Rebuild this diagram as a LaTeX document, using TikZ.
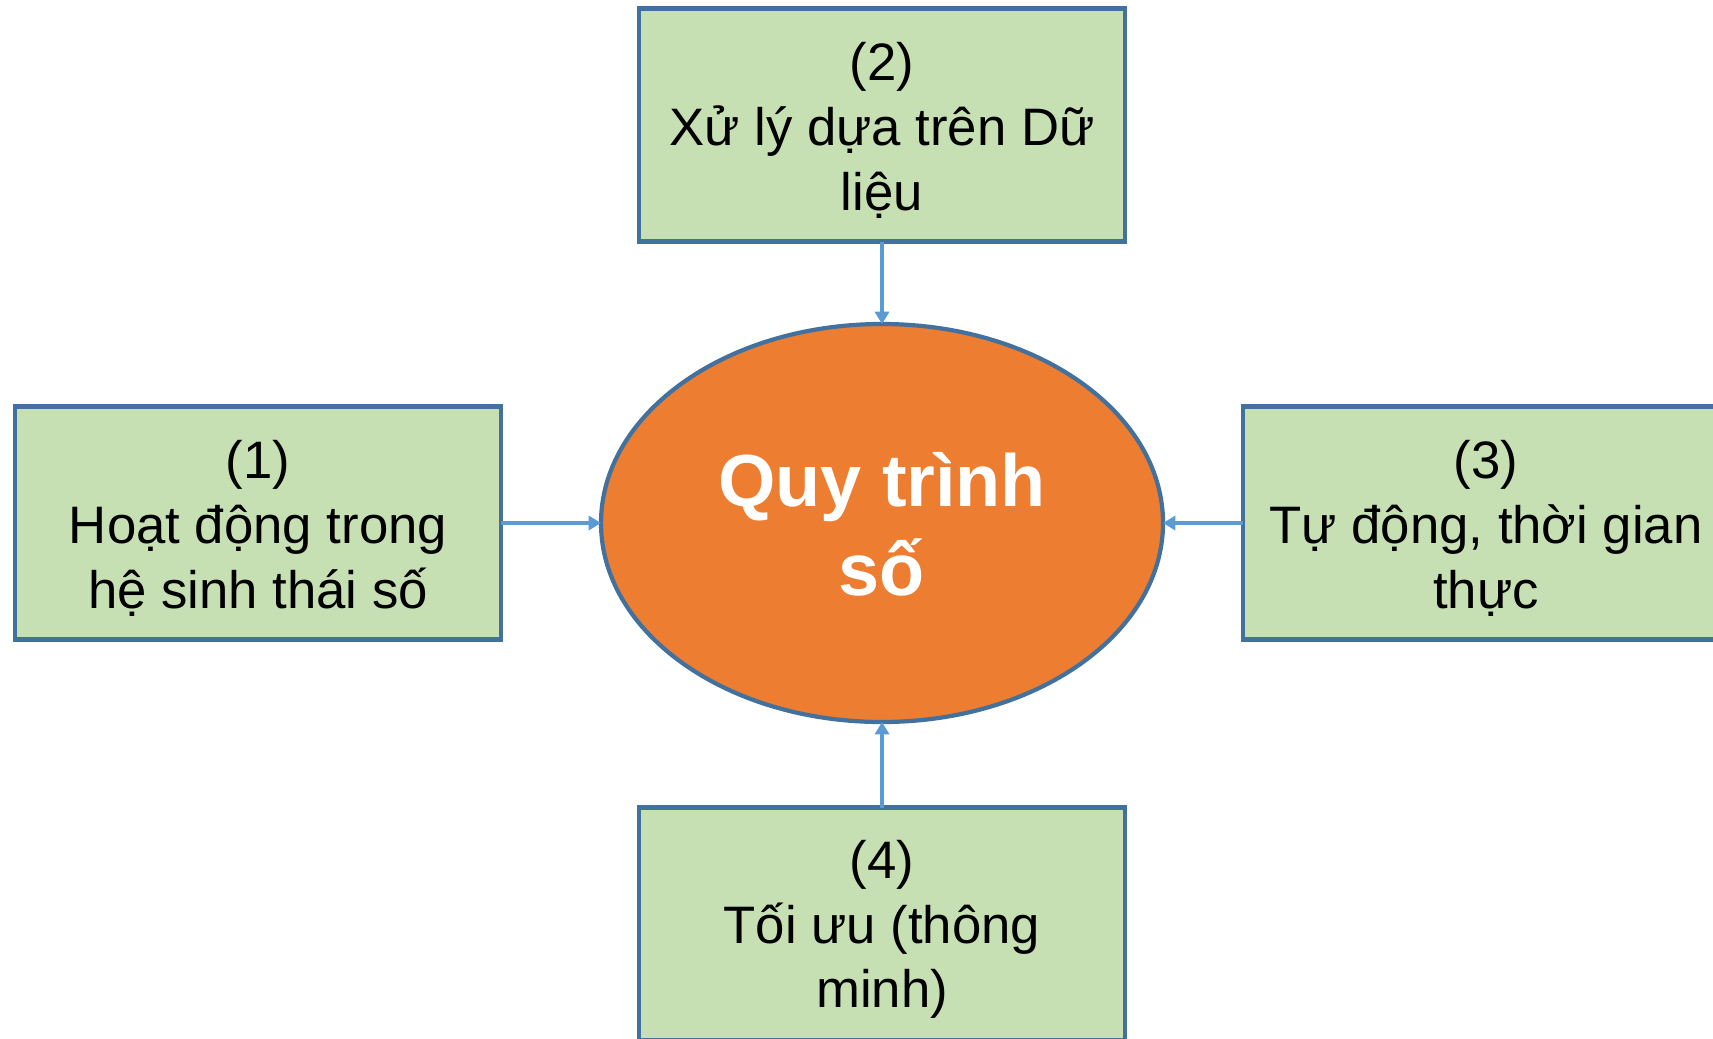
\documentclass[tikz,border=0pt]{standalone}
\usepackage{fontspec}
\setmainfont{Liberation Sans}
\usetikzlibrary{arrows.meta,shapes.geometric}
\definecolor{boxgreen}{HTML}{C6E0B4}
\definecolor{edgeblue}{HTML}{41719C}
\definecolor{arrowblue}{HTML}{5B9BD5}
\definecolor{procorange}{HTML}{ED7D31}
\newcommand{\toplift}[1]{\rule{0pt}{#1}}
\tikzstyle{box}=[rectangle,draw=edgeblue,fill=boxgreen,line width=1.3pt,minimum width=4.86cm,minimum height=2.33cm,align=center,font=\fontsize{15}{18.4}\selectfont,outer sep=0pt]
\tikzstyle{proc}=[ellipse,draw=edgeblue,fill=procorange,line width=1.2pt,minimum width=5.62cm,minimum height=3.98cm,inner sep=0pt,outer sep=0pt,align=center,text=white,font=\fontsize{21}{25.4}\selectfont\bfseries]
\tikzstyle{link}=[arrowblue,line width=0.9pt,-{Triangle[length=3.5pt,width=4pt]}]

\begin{document}
\begin{tikzpicture}[]
\useasboundingbox (0,0) rectangle (17.13,10.38);

\node (q) at (8.82,5.15)  [proc] {\toplift{16pt}Quy trình\\số};
\node (1) at (2.58,5.15)  [box] {\toplift{14pt}(1)\\Hoạt động trong\\hệ sinh thái số};
\node (2) at (8.82,9.13)  [box] {\toplift{14pt}(2)\\Xử lý dựa trên Dữ\\liệu};
\node (3) at (14.86,5.15) [box] {\toplift{14pt}(3)\\Tự động, thời gian\\thực};
\node (4) at (8.82,1.14)  [box] {\toplift{14pt}(4)\\Tối ưu (thông\\minh)};

\draw[link] (1.east) -- (q.west);
\draw[link] (2.south) -- (q.north);
\draw[link] (3.west) -- (q.east);
\draw[link] (4.north) -- (q.south);
\end{tikzpicture}
\end{document}
